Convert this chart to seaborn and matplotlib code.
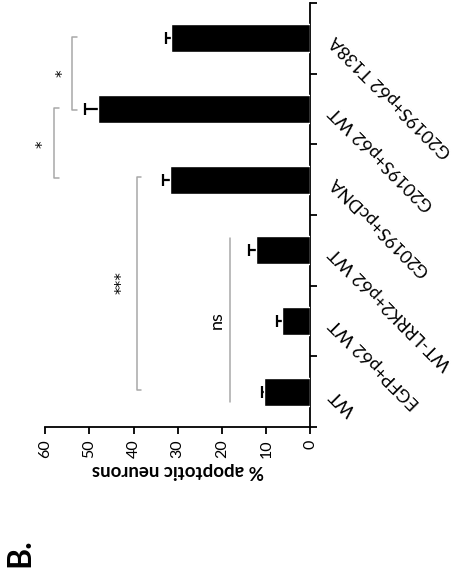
import matplotlib
matplotlib.use('Agg')
import matplotlib.pyplot as plt
import seaborn as sns
import pandas as pd
import numpy as np

categories = ['WT', 'EGFP+p62 WT', 'WT-LRRK2+p62 WT', 'G2019S+pcDNA',
              'G2019S+p62 WT', 'G2019S+p62 T138A']
values = [10.4, 6.5, 12.3, 31.7, 48.0, 31.5]
errors = [0.6, 1.1, 1.6, 1.7, 3.0, 1.2]
value_ticks = [0, 10, 20, 30, 40, 50, 60]
value_label = '% apoptotic neurons'
panel_label = 'B.'

sns.set_style('ticks')
plt.rcParams['font.family'] = ['Lato', 'DejaVu Sans']
plt.rcParams['text.color'] = 'black'
plt.rcParams['axes.labelcolor'] = 'black'
plt.rcParams['xtick.color'] = 'black'
plt.rcParams['ytick.color'] = 'black'

df = pd.DataFrame({'category': categories, 'value': values, 'error': errors})
order = categories[::-1]

W, H = 464, 584
fig = plt.figure(figsize=(W / 100, H / 100), dpi=100)
ax = fig.add_axes([45 / W, (H - 427) / H, (310.5 - 45) / W, 424 / H])

sns.barplot(data=df, x='value', y='category', order=order, orient='h',
            color='black', saturation=1, width=0.4, errorbar=None, ax=ax,
            zorder=3)

pos = [order.index(c) for c in categories]
ax.errorbar(values, pos, xerr=errors, fmt='none', ecolor='black',
            elinewidth=1.6, capsize=4, capthick=1.6, zorder=2)

ax.set_xlim(60, 0)
ax.set_ylim(5.5, -0.5)

for s in ['left', 'top']:
    ax.spines[s].set_visible(False)
for s in ['right', 'bottom']:
    ax.spines[s].set_linewidth(1.3)
    ax.spines[s].set_color('black')

ax.set_xticks(value_ticks)
ax.tick_params(axis='x', direction='out', length=5, width=1.3, labelrotation=90,
               labelsize=11.5, pad=4, colors='black')

ax.yaxis.tick_right()
ax.set_yticks(np.arange(-0.5, 6, 1))
ax.set_yticklabels([])
ax.set_yticks(range(6), labels=order, minor=True)
ax.tick_params(axis='y', which='major', direction='out', length=5, width=1.3,
               right=True, left=False, colors='black')
ax.tick_params(axis='y', which='minor', length=0, right=True, left=False,
               labelright=True, labelleft=False, pad=16, labelsize=13,
               colors='black')
for lbl in ax.get_yticklabels(minor=True):
    lbl.set_rotation(135)
    lbl.set_rotation_mode('anchor')
    lbl.set_ha('right')
    lbl.set_va('center')

ax.set_ylabel('')
ax.set_xlabel(value_label, rotation=180, fontweight='bold', fontsize=13.5,
              labelpad=3, color='black')

grey = '#a8a8a8'

def bracket(v, y0, y1, cap):
    if cap:
        ax.plot([v - cap, v, v, v - cap], [y0, y0, y1, y1], color=grey,
                lw=1.1, clip_on=False, zorder=1)
    else:
        ax.plot([v, v], [y0, y1], color=grey, lw=1.1, clip_on=False, zorder=1)

bracket(18.1, 2.83, 5.15, 0)
bracket(39.2, 1.96, 4.98, 1.0)
bracket(58.0, 0.99, 1.98, 1.1)
bracket(53.9, -0.02, 1.01, 1.2)

ax.text(21.1, 3.99, 'ns', rotation=90, ha='center', va='center', fontsize=13,
        clip_on=False)
star_font = ['DejaVu Sans']
ax.text(42.6, 3.46, '***', rotation=90, ha='center', va='center', fontsize=11,
        family=star_font, clip_on=False)
ax.text(55.9, 0.49, '*', rotation=90, ha='center', va='center', fontsize=11,
        family=star_font, clip_on=False)
ax.text(60.5, 1.5, '*', rotation=90, ha='center', va='center', fontsize=11,
        family=star_font, clip_on=False)

fig.text(20 / W, 1 - 553 / H, panel_label, rotation=90, fontweight='bold',
         fontsize=23, ha='center', va='center')

fig.savefig('out.png', dpi=100)
